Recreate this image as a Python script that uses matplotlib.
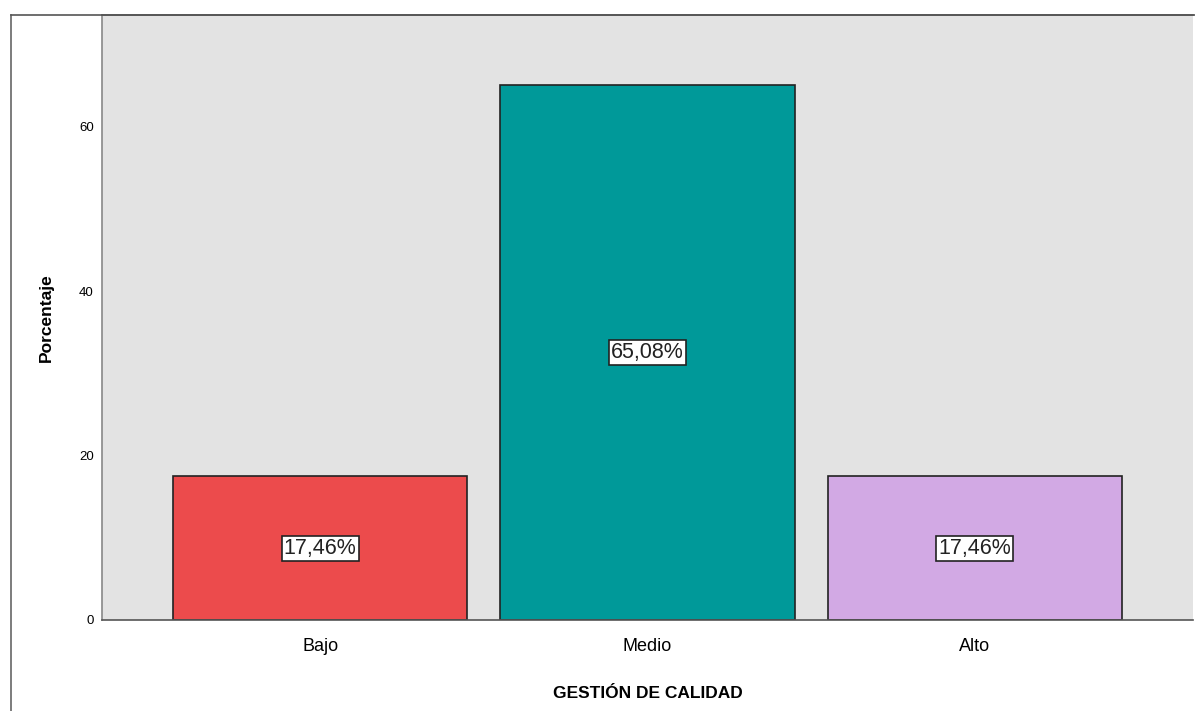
import matplotlib
matplotlib.use("Agg")
import matplotlib.pyplot as plt
from matplotlib.lines import Line2D

categories = ["Bajo", "Medio", "Alto"]
percentages = [17.46, 65.08, 17.46]
value_labels = ["17,46%", "65,08%", "17,46%"]
yticks = [0, 20, 40, 60]
colors = ["#EC4B4C", "#009999", "#D2A9E4"]

plt.rcParams["font.family"] = ["Liberation Sans", "DejaVu Sans"]

fig = plt.figure(figsize=(11.95, 7.11), dpi=100)
ax = fig.add_axes([102/1195, 91/711, 1091/1195, 605/711])
ax.set_facecolor("#E3E3E3")

x = range(len(categories))
ax.bar(x, percentages, width=0.9, color=colors, edgecolor="#222222", linewidth=1.2, zorder=2)
for xi, v, lab in zip(x, percentages, value_labels):
    ax.text(xi, v / 2, lab, ha="center", va="center", fontsize=15.5, color="#222222", zorder=3,
            bbox=dict(boxstyle="square,pad=0.1", fc="white", ec="#222222", lw=1.2))

ax.set_xlim(-0.666, 2.666)
ax.set_ylim(0, 73.6)
ax.set_yticks(yticks)
ax.set_xticks(list(x))
ax.set_xticklabels(categories)
ax.tick_params(axis="y", length=0, labelsize=9.5, pad=6)
ax.tick_params(axis="x", length=0, labelsize=13, pad=13)
ax.set_ylabel("Porcentaje", fontsize=12.5, fontweight="bold", labelpad=18)
ax.set_xlabel("GESTIÓN DE CALIDAD", fontsize=12.5, fontweight="bold", labelpad=22)

for side in ["top", "bottom"]:
    ax.spines[side].set_color("#555555")
    ax.spines[side].set_linewidth(1.2)
ax.spines["left"].set_color("#888888")
ax.spines["left"].set_linewidth(1.2)
ax.spines["right"].set_visible(False)

# outer frame (left and top)
fig.add_artist(Line2D([11/1195, 11/1195], [0, 696/711], color="#666666", lw=1.2))
fig.add_artist(Line2D([11/1195, 1], [696/711, 696/711], color="#555555", lw=1.2))

fig.savefig("out.png", dpi=100)
